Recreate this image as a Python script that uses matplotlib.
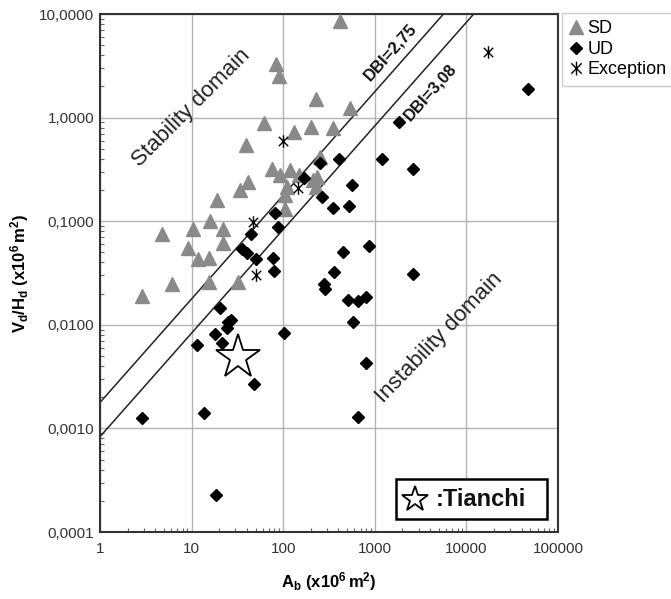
import matplotlib
matplotlib.use('Agg')
import matplotlib.pyplot as plt
from matplotlib.path import Path
from matplotlib.patches import Rectangle
from matplotlib.ticker import FixedLocator, FixedFormatter, LogLocator, NullFormatter
from matplotlib.lines import Line2D
import numpy as np

plt.rcParams['font.family'] = ['Liberation Sans', 'DejaVu Sans']
plt.rcParams['mathtext.fontset'] = 'custom'
plt.rcParams['mathtext.rm'] = 'Liberation Sans'
plt.rcParams['mathtext.bf'] = 'Liberation Sans:bold'
plt.rcParams['mathtext.it'] = 'Liberation Sans:italic'

# ---------------- data ----------------
sd_area = [417, 83, 89, 226, 535, 61, 130, 200, 352, 39, 41.5, 33.7, 76, 92, 119,
           110, 105, 105, 150, 213, 233, 229, 18.8, 15.9, 22.2, 10.3, 4.8, 9.2,
           22.2, 11.8, 15.6, 15.6, 31.8, 6.06, 2.9, 255]
sd_ratio = [8.6, 3.3, 2.5, 1.5, 1.23, 0.89, 0.73, 0.82, 0.80, 0.54, 0.24, 0.20, 0.317,
            0.279, 0.31, 0.215, 0.179, 0.13, 0.28, 0.25, 0.27, 0.215, 0.16, 0.10,
            0.085, 0.085, 0.075, 0.055, 0.061, 0.043, 0.044, 0.026, 0.026, 0.0246,
            0.019, 0.42]

ud_area = [252, 410, 169, 263, 352, 523, 568, 1208, 2580, 1853, 46600, 871, 453, 361,
           2580, 279, 286, 514, 661, 798, 582, 795, 661, 81.5, 87, 44.5, 35.2, 39.9,
           50.4, 76.7, 80, 20.4, 25.2, 27, 24.2, 18, 21.3, 11.5, 102, 48, 13.8, 2.9, 18.5]
ud_ratio = [0.367, 0.40, 0.26, 0.173, 0.133, 0.14, 0.224, 0.40, 0.32, 0.91, 1.87,
            0.058, 0.050, 0.032, 0.031, 0.0248, 0.022, 0.0174, 0.0171, 0.0186, 0.0106,
            0.00425, 0.0013, 0.121, 0.0885, 0.075, 0.0536, 0.049, 0.043, 0.044, 0.033,
            0.0145, 0.0107, 0.0112, 0.0093, 0.0081, 0.0066, 0.0064, 0.0084, 0.00266,
            0.00142, 0.00125, 0.000228]

exc_area = [100, 47.2, 50.5, 146, 17300]
exc_ratio = [0.594, 0.099, 0.030, 0.207, 4.33]

tianchi_area = [31.8]
tianchi_ratio = [0.0049]

dbi_values = [2.75, 3.08]
dbi_labels = ['DBI=2,75', 'DBI=3,08']

x_ticks = [1, 10, 100, 1000, 10000, 100000]
x_tick_labels = ['1', '10', '100', '1000', '10000', '100000']
y_ticks = [0.0001, 0.001, 0.01, 0.1, 1, 10]
y_tick_labels = ['0,0001', '0,0010', '0,0100', '0,1000', '1,0000', '10,0000']

# ---------------- figure ----------------
fig = plt.figure(figsize=(6.71, 5.99), dpi=100)
ax = fig.add_axes([100/671, 1-532/599, 458/671, 518/599])
ax.set_xscale('log')
ax.set_yscale('log')
ax.set_xlim(1, 1e5)
ax.set_ylim(1e-4, 10)

ax.xaxis.set_major_locator(FixedLocator(x_ticks))
ax.xaxis.set_major_formatter(FixedFormatter(x_tick_labels))
ax.yaxis.set_major_locator(FixedLocator(y_ticks))
ax.yaxis.set_major_formatter(FixedFormatter(y_tick_labels))
ax.xaxis.set_minor_locator(LogLocator(base=10, subs=np.arange(2, 10), numticks=20))
ax.yaxis.set_minor_locator(LogLocator(base=10, subs=np.arange(2, 10), numticks=20))
ax.xaxis.set_minor_formatter(NullFormatter())
ax.yaxis.set_minor_formatter(NullFormatter())
ax.tick_params(which='major', length=0, labelsize=11, labelcolor='#333333')
ax.tick_params(axis='y', which='major', pad=4)
ax.tick_params(axis='x', which='major', pad=7)
ax.tick_params(which='minor', direction='in', length=3, width=0.8, color='#666666')

ax.grid(True, which='major', color='#b4b4b4', lw=1.0)
ax.set_axisbelow(True)
for s in ax.spines.values():
    s.set_linewidth(1.5)
    s.set_color('#333333')

# DBI lines
xl = np.array([1, 1e5])
for d in dbi_values:
    ax.plot(xl, xl / 10**d, color='#222222', lw=1.1, zorder=2)

# asterisk marker
ast = Path([(0, -1), (0, 1), (-0.75, -0.75), (0.75, 0.75), (-0.75, 0.75), (0.75, -0.75)],
           [Path.MOVETO, Path.LINETO, Path.MOVETO, Path.LINETO, Path.MOVETO, Path.LINETO])

ax.plot(sd_area, sd_ratio, ls='none', marker='^', ms=9.5, color='#8a8a8a', mec='#8a8a8a', zorder=3)
ax.plot(ud_area, ud_ratio, ls='none', marker='D', ms=6.2, color='black', zorder=4)
ax.plot(exc_area, exc_ratio, ls='none', marker=ast, ms=9, mfc='none', mec='black', mew=1.0, zorder=5)
ax.plot(tianchi_area, tianchi_ratio, ls='none', marker='*', ms=33, mfc='white', mec='black', mew=1.3, zorder=6)

# texts
ax.text(9.85, 1.24, 'Stability domain', rotation=45, rotation_mode='anchor',
        ha='center', va='center', fontsize=16, color='#222222')
ax.text(5000, 0.00753, 'Instability domain', rotation=46, rotation_mode='anchor',
        ha='center', va='center', fontsize=16, color='#222222')
ax.text(1466, 4.33, dbi_labels[0], rotation=48, rotation_mode='anchor',
        ha='center', va='center', fontsize=12, fontweight='bold', color='#111111')
ax.text(4005, 1.78, dbi_labels[1], rotation=48, rotation_mode='anchor',
        ha='center', va='center', fontsize=12, fontweight='bold', color='#111111')

# Tianchi box
ax.add_patch(Rectangle((0.646, 0.025), 0.33, 0.077, transform=ax.transAxes,
                       fill=True, facecolor='white', edgecolor='black', lw=1.8, zorder=7))
ax.plot([0.688], [0.0635], transform=ax.transAxes, ls='none', marker='*', ms=19,
        mfc='white', mec='black', mew=1.3, zorder=8, clip_on=False)
ax.text(0.733, 0.0635, ':Tianchi', transform=ax.transAxes, ha='left', va='center',
        fontsize=17, fontweight='bold', color='#111111', zorder=8)

# axis labels
ax.set_xlabel(r'$\mathbf{A_b\ (x10^6\,m^2)}$', fontsize=12, labelpad=10)
ax.set_ylabel(r'$\mathbf{V_d/H_d\ (x10^6\,m^2)}$', fontsize=12, labelpad=6)

# legend
handles = [
    Line2D([], [], ls='none', marker='^', ms=10, color='#8a8a8a'),
    Line2D([], [], ls='none', marker='D', ms=6.5, color='black'),
    Line2D([], [], ls='none', marker=ast, ms=10, mfc='none', mec='black', mew=1.0),
]
fig.legend(handles, ['SD', 'UD', 'Exception'], loc='upper left',
           bbox_to_anchor=(562/671, 1-13/599), fontsize=13, frameon=True,
           fancybox=False, edgecolor='#cccccc', framealpha=1, handlelength=0.8,
           handletextpad=0.2, labelspacing=0.2, borderpad=0.4, borderaxespad=0)

fig.savefig('out.png', dpi=100)
